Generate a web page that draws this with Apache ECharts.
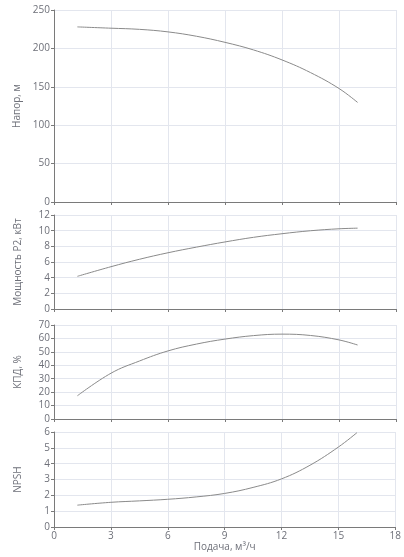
<!DOCTYPE html>
<html>
<head>
<meta charset="utf-8">
<script src="https://cdn.jsdelivr.net/npm/echarts@6/dist/echarts.min.js"></script>
<style>
  html, body { margin: 0; padding: 0; background: #fff; }
  #chart { width: 404px; height: 557px; }
</style>
</head>
<body>
<div id="chart"></div>
<script>
// Pump performance curves: head, power, efficiency, NPSH vs flow.
const FONT = "'Open Sans', 'Noto Sans', sans-serif";

const flow = [1.23, 3, 4.5, 6, 7.5, 9, 10.5, 12, 13.5, 15, 15.98];
const head = [228.0, 226.3, 224.8, 221.5, 215.8, 207.9, 198.0, 185.0, 168.5, 147.8, 129.6];
const power = [4.17, 5.4, 6.35, 7.18, 7.9, 8.56, 9.15, 9.61, 9.99, 10.24, 10.32];
const effic = [17.3, 34.1, 43.2, 50.7, 55.8, 59.5, 62.1, 63.2, 62.2, 58.9, 55.1];
const npsh = [1.38, 1.56, 1.65, 1.75, 1.9, 2.12, 2.5, 3.04, 3.9, 5.05, 5.96];

const panels = [
  { name: 'Напор, м', values: head, max: 250, interval: 50, top: 10, height: 192 },
  { name: 'Мощность P2, кВт', values: power, max: 12, interval: 2, top: 215, height: 94 },
  { name: 'КПД, %', values: effic, max: 70, interval: 10, top: 325, height: 94 },
  { name: 'NPSH', values: npsh, max: 6, interval: 1, top: 432, height: 95 },
];

const AXIS = '#7a7a7a';
const LABEL = '#6E7079';
const SPLIT = '#E3E6EE';

const chart = echarts.init(document.getElementById('chart'));

const last = panels.length - 1;
chart.setOption({
  animation: false,
  textStyle: { fontFamily: FONT },
  grid: panels.map((p) => ({ left: 54, right: 8, top: p.top, height: p.height })),
  xAxis: panels.map((p, i) => ({
    type: 'value', gridIndex: i, min: 0, max: 18, interval: 3,
    name: i === last ? 'Подача, м³/ч' : '',
    nameLocation: 'middle', nameGap: 13,
    nameTextStyle: { color: LABEL, fontSize: 10, fontFamily: FONT },
    axisLine: { show: true, lineStyle: { color: AXIS } },
    axisTick: { show: true, length: 3, lineStyle: { color: AXIS } },
    axisLabel: { show: i === last, color: LABEL, fontSize: 10, margin: 4, fontFamily: FONT },
    splitLine: { show: true, lineStyle: { color: SPLIT } },
  })),
  yAxis: panels.map((p, i) => ({
    type: 'value', gridIndex: i, min: 0, max: p.max, interval: p.interval,
    name: p.name, nameLocation: 'middle', nameGap: 31, nameRotate: 90,
    nameTextStyle: { color: LABEL, fontSize: 10, fontFamily: FONT },
    axisLine: { show: true, lineStyle: { color: AXIS } },
    axisTick: { show: true, length: 3, lineStyle: { color: AXIS } },
    axisLabel: { color: LABEL, fontSize: 10, margin: 4, fontFamily: FONT },
    splitLine: { show: true, lineStyle: { color: SPLIT } },
  })),
  series: panels.map((p, i) => ({
    type: 'line', xAxisIndex: i, yAxisIndex: i,
    data: flow.map((x, k) => [x, p.values[k]]),
    smooth: 0.4, showSymbol: false,
    lineStyle: { color: '#8a8a8a', width: 1 },
  })),
});
</script>
</body>
</html>
